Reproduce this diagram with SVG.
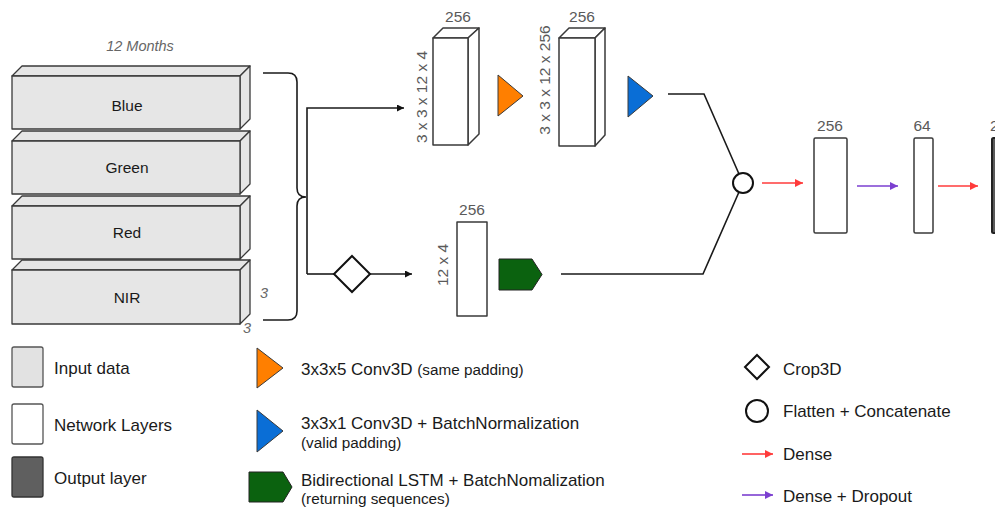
<svg xmlns="http://www.w3.org/2000/svg" width="995" height="508" viewBox="0 0 995 508">
  <defs>
    <style>
      text { font-family: "Liberation Sans", Arial, sans-serif; }
      .lbl { font-size: 15.5px; fill: #1a1a1a; text-anchor: middle; }
      .dim { font-size: 15.5px; fill: #5a5a5a; }
      .ital { font-size: 14.5px; fill: #666; font-style: italic; }
      .leg { font-size: 17px; fill: #1a1a1a; }
      .small { font-size: 15.3px; }
      .slab { fill: #e6e6e6; stroke: #3a3a3a; stroke-width: 1.3; stroke-linejoin: round; }
      .box { fill: #ffffff; stroke: #3a3a3a; stroke-width: 1.5; stroke-linejoin: round; }
      .wire { fill: none; stroke: #1a1a1a; stroke-width: 1.6; }
      .dense { stroke: #ff3b3b; stroke-width: 1.6; fill: none; }
      .drop { stroke: #7b3fd0; stroke-width: 1.6; fill: none; }
    </style>
    <marker id="ah" viewBox="0 0 10 10" refX="10" refY="5" markerWidth="7" markerHeight="7" markerUnits="userSpaceOnUse" orient="auto">
      <path d="M0,0 L10,5 L0,10 Z" fill="#111"/>
    </marker>
    <marker id="ahRed" viewBox="0 0 10 10" refX="10" refY="5" markerWidth="10" markerHeight="8" markerUnits="userSpaceOnUse" orient="auto">
      <path d="M0,0 L10,5 L0,10 Z" fill="#ff3b3b"/>
    </marker>
    <marker id="ahPurple" viewBox="0 0 10 10" refX="10" refY="5" markerWidth="10" markerHeight="8" markerUnits="userSpaceOnUse" orient="auto">
      <path d="M0,0 L10,5 L0,10 Z" fill="#7b3fd0"/>
    </marker>
  </defs>

  <rect width="995" height="508" fill="#ffffff"/>

  <!-- Input slabs (12 months x 3 x 3 per band) -->
  <g id="input">
    <text class="ital" x="140" y="51" text-anchor="middle">12 Months</text>
    <g id="band-blue">
      <polygon class="slab" points="12,76 22,66 250,66 240,76"/>
      <polygon class="slab" points="240,76 250,66 250,119 240,129"/>
      <rect class="slab" x="12" y="76" width="228" height="53"/>
      <text class="lbl" x="127" y="111">Blue</text>
    </g>
    <g id="band-green">
      <polygon class="slab" points="12,141 22,131 250,131 240,141"/>
      <polygon class="slab" points="240,141 250,131 250,184 240,194"/>
      <rect class="slab" x="12" y="141" width="228" height="53"/>
      <text class="lbl" x="127" y="173">Green</text>
    </g>
    <g id="band-red">
      <polygon class="slab" points="12,206 22,196 250,196 240,206"/>
      <polygon class="slab" points="240,206 250,196 250,249 240,259"/>
      <rect class="slab" x="12" y="206" width="228" height="53"/>
      <text class="lbl" x="127" y="238">Red</text>
    </g>
    <g id="band-nir">
      <polygon class="slab" points="12,270 22,260 250,260 240,270"/>
      <polygon class="slab" points="240,270 250,260 250,314 240,324"/>
      <rect class="slab" x="12" y="270" width="228" height="54"/>
      <text class="lbl" x="127" y="303">NIR</text>
    </g>
    <text class="ital" x="260" y="298">3</text>
    <text class="ital" x="243" y="333">3</text>
  </g>

  <!-- Connectors -->
  <g id="connectors">
    <path class="wire" d="M263,73 H288 Q297,73 297,82 V188 Q297,197 306,197 Q297,197 297,206 V311 Q297,320 288,320 H263"/>
    <path class="wire" d="M307,274 V108 H404" marker-end="url(#ah)"/>
    <path class="wire" d="M307,274 H334"/>
    <path class="wire" d="M370,274 H412" marker-end="url(#ah)"/>
    <path class="wire" d="M668,94 H704 L739,174"/>
    <path class="wire" d="M561,274 H703 L739,192"/>
    <path class="dense" d="M762,183 H803" marker-end="url(#ahRed)"/>
    <path class="drop" d="M857,186 H898" marker-end="url(#ahPurple)"/>
    <path class="dense" d="M938,186 H978" marker-end="url(#ahRed)"/>
  </g>

  <!-- Conv3D branch -->
  <g id="conv-a">
    <polygon class="box" points="433,38 443,28 479,28 468,38"/>
    <polygon class="box" points="468,38 479,28 479,134 468,145"/>
    <rect class="box" x="433" y="38" width="35" height="107"/>
    <text class="dim" x="458" y="22" text-anchor="middle">256</text>
    <text class="dim" text-anchor="middle" transform="translate(427,97) rotate(-90)">3 x 3 x 12 x 4</text>
  </g>
  <g id="conv-same">
    <polygon points="498,75 523,96 498,116" fill="#ff7f00" stroke="#3a3a3a" stroke-width="1"/>
  </g>
  <g id="conv-b">
    <polygon class="box" points="559,38 569,28 605,28 595,38"/>
    <polygon class="box" points="595,38 605,28 605,135 595,146"/>
    <rect class="box" x="559" y="38" width="36" height="108"/>
    <text class="dim" x="582" y="22" text-anchor="middle">256</text>
    <text class="dim" text-anchor="middle" transform="translate(550,80) rotate(-90)">3 x 3 x 12 x 256</text>
  </g>
  <g id="conv-valid">
    <polygon points="628,76 653,96 628,117" fill="#0a6ed6" stroke="#3a3a3a" stroke-width="1"/>
  </g>

  <!-- LSTM branch -->
  <g id="crop">
    <polygon points="352,256 370,274 352,292 334,274" fill="#ffffff" stroke="#111" stroke-width="2"/>
  </g>
  <g id="lstm-in">
    <rect class="box" x="457" y="222" width="30" height="94"/>
    <text class="dim" x="472" y="215" text-anchor="middle">256</text>
    <text class="dim" text-anchor="middle" transform="translate(448,265) rotate(-90)">12 x 4</text>
  </g>
  <g id="lstm">
    <polygon points="499,259 532,259 542,274.5 532,290 499,290" fill="#0b620f" stroke="#222" stroke-width="1"/>
  </g>

  <!-- Head -->
  <g id="concat">
    <circle cx="743" cy="183" r="10" fill="#ffffff" stroke="#111" stroke-width="2"/>
  </g>
  <g id="dense-256">
    <rect class="box" x="814" y="138" width="33" height="95" rx="1.5"/>
    <text class="dim" x="830" y="131" text-anchor="middle">256</text>
  </g>
  <g id="dense-64">
    <rect class="box" x="914" y="138" width="19" height="95" rx="1.5"/>
    <text class="dim" x="922" y="131" text-anchor="middle">64</text>
  </g>
  <g id="output">
    <rect x="992" y="138" width="30" height="95" rx="1.5" fill="#5a5a5a" stroke="#222" stroke-width="2"/>
    <text class="dim" x="990" y="131">2</text>
  </g>

  <!-- Legend -->
  <g id="legend">
    <rect x="12" y="347" width="31" height="40" rx="2" fill="#e2e2e2" stroke="#555" stroke-width="1.3"/>
    <text class="leg" x="54" y="374">Input data</text>
    <rect x="12" y="404" width="31" height="40" rx="2" fill="#ffffff" stroke="#555" stroke-width="1.3"/>
    <text class="leg" x="54" y="431">Network Layers</text>
    <rect x="12" y="457" width="31" height="40" rx="2" fill="#5f5f5f" stroke="#333" stroke-width="1.3"/>
    <text class="leg" x="54" y="484">Output layer</text>

    <polygon points="257,348 283,368 257,388" fill="#ff7f00" stroke="#3a3a3a" stroke-width="1"/>
    <text class="leg" x="301" y="375">3x3x5 Conv3D <tspan class="small">(same padding)</tspan></text>
    <polygon points="257,410 283,431 257,452" fill="#0a6ed6" stroke="#3a3a3a" stroke-width="1"/>
    <text class="leg" x="301" y="429">3x3x1 Conv3D + BatchNormalization</text>
    <text class="leg small" x="301" y="448">(valid padding)</text>
    <polygon points="249,472 283,472 292,487 283,502 249,502" fill="#0b620f" stroke="#222" stroke-width="1"/>
    <text class="leg" x="301" y="486">Bidirectional LSTM + BatchNomalization</text>
    <text class="leg small" x="301" y="504">(returning sequences)</text>

    <polygon points="757,355 769,367 757,379 745,367" fill="#ffffff" stroke="#111" stroke-width="2"/>
    <text class="leg" x="783" y="375">Crop3D</text>
    <circle cx="757" cy="411" r="11" fill="#ffffff" stroke="#111" stroke-width="2"/>
    <text class="leg" x="783" y="417">Flatten + Concatenate</text>
    <path class="dense" d="M742,454 H773" marker-end="url(#ahRed)"/>
    <text class="leg" x="783" y="460">Dense</text>
    <path class="drop" d="M742,495 H773" marker-end="url(#ahPurple)"/>
    <text class="leg" x="783" y="502">Dense + Dropout</text>
  </g>
</svg>
